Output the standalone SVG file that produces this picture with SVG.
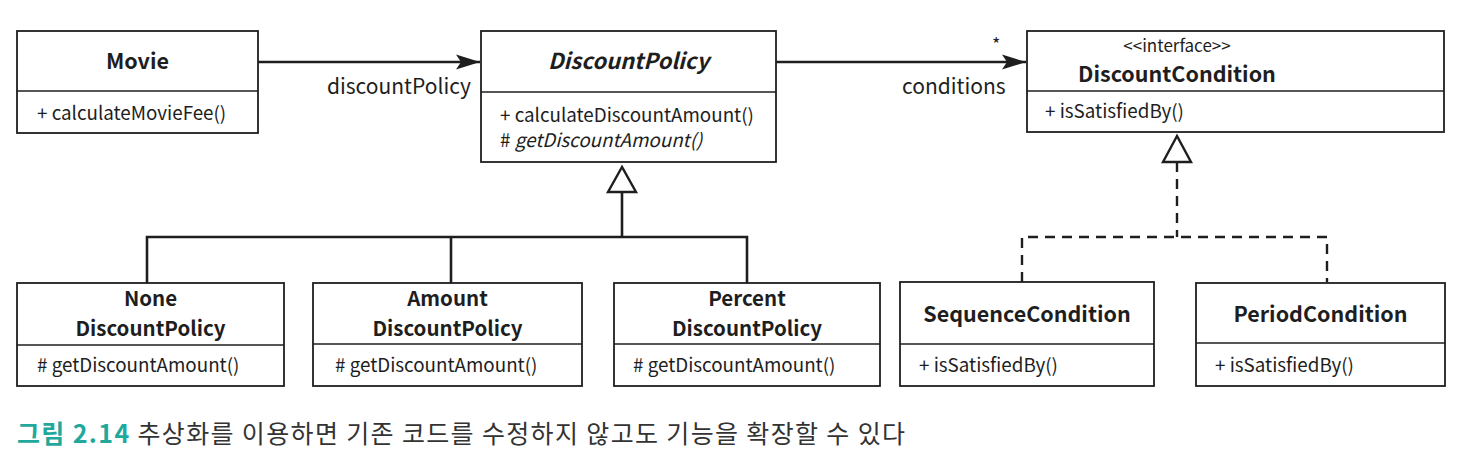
<svg xmlns="http://www.w3.org/2000/svg" width="1462" height="458" viewBox="0 0 1462 458">
<style>
text{font-family:"Noto Sans CJK KR","Noto Sans",sans-serif;fill:#1e1e1e}
.box{fill:#fff;stroke:#1e1e1e;stroke-width:1.8}
.div{stroke:#1e1e1e;stroke-width:1.6}
.t{font-size:21.5px;font-weight:700;text-anchor:middle}
.t2{font-size:20.5px;font-weight:700;text-anchor:middle}
.ti{font-size:22px;font-weight:700;font-style:italic;text-anchor:middle}
.m{font-size:18.8px}
.lbl{font-size:21px}
.st{font-size:17px;text-anchor:middle}
.ln{fill:none;stroke:#1e1e1e;stroke-width:2.6}
.dash{fill:none;stroke:#1e1e1e;stroke-width:2.4;stroke-dasharray:10 7}
.tri{fill:#fff;stroke:#1e1e1e;stroke-width:2.4;stroke-linejoin:miter}
</style>
<defs>
<marker id="arr" markerWidth="26" markerHeight="18" refX="24" refY="9" orient="auto" markerUnits="userSpaceOnUse">
<path d="M0,1.5 L24,9 L0,16.5 L5,9 Z" fill="#1e1e1e"/>
</marker>
</defs>
<rect width="1462" height="458" fill="#fff"/>

<g id="connectors">
<line class="ln" x1="258" y1="62" x2="480" y2="62" marker-end="url(#arr)"/>
<line class="ln" x1="776" y1="62" x2="1026" y2="62" marker-end="url(#arr)"/>
<text class="lbl" x="327" y="94">discountPolicy</text>
<text class="lbl" x="902" y="94">conditions</text>
<text style="font-size:18px" x="992" y="51">*</text>
<path class="ln" d="M622,192 V237 M147,283 V237 H747 V283 M451,237 V283"/>
<polygon class="tri" points="622,167 608,192 636,192"/>
<path class="dash" d="M1177,162 V237"/>
<path class="dash" d="M1022,282 V237 H1327 V282"/>
<polygon class="tri" points="1177,136 1163,162 1191,162"/>
</g>

<g id="movie">
<rect class="box" x="17" y="31" width="241" height="102"/>
<line class="div" x1="17" y1="91" x2="258" y2="91"/>
<text class="t" x="137.5" y="69">Movie</text>
<text class="m" x="37" y="120">+ calculateMovieFee()</text>
</g>

<g id="discountPolicy">
<rect class="box" x="481" y="31" width="295" height="131"/>
<line class="div" x1="481" y1="92" x2="776" y2="92"/>
<text class="ti" x="628.5" y="69">DiscountPolicy</text>
<text class="m" x="500" y="122">+ calculateDiscountAmount()</text>
<text class="m" x="500" y="147"># <tspan font-style="italic">getDiscountAmount()</tspan></text>
</g>

<g id="discountCondition">
<rect class="box" x="1027" y="31" width="417" height="101"/>
<line class="div" x1="1027" y1="91" x2="1444" y2="91"/>
<text class="st" x="1177" y="52">&lt;&lt;interface&gt;&gt;</text>
<text class="t" x="1177" y="82">DiscountCondition</text>
<text class="m" x="1045" y="118">+ isSatisfiedBy()</text>
</g>

<g id="noneDiscountPolicy">
<rect class="box" x="17" y="283" width="267" height="103"/>
<line class="div" x1="17" y1="345" x2="284" y2="345"/>
<text class="t2"><tspan x="150.5" y="306">None</tspan><tspan x="150.5" y="336">DiscountPolicy</tspan></text>
<text class="m" x="37" y="372"># getDiscountAmount()</text>
</g>

<g id="amountDiscountPolicy">
<rect class="box" x="313" y="283" width="269" height="103"/>
<line class="div" x1="313" y1="344" x2="582" y2="344"/>
<text class="t2"><tspan x="447.5" y="306">Amount</tspan><tspan x="447.5" y="336">DiscountPolicy</tspan></text>
<text class="m" x="335" y="372"># getDiscountAmount()</text>
</g>

<g id="percentDiscountPolicy">
<rect class="box" x="614" y="283" width="266" height="103"/>
<line class="div" x1="614" y1="344" x2="880" y2="344"/>
<text class="t2"><tspan x="747" y="306">Percent</tspan><tspan x="747" y="336">DiscountPolicy</tspan></text>
<text class="m" x="633" y="372"># getDiscountAmount()</text>
</g>

<g id="sequenceCondition">
<rect class="box" x="900" y="282" width="254" height="104"/>
<line class="div" x1="900" y1="344" x2="1154" y2="344"/>
<text class="t" x="1027" y="322">SequenceCondition</text>
<text class="m" x="919" y="372">+ isSatisfiedBy()</text>
</g>

<g id="periodCondition">
<rect class="box" x="1196" y="283" width="249" height="103"/>
<line class="div" x1="1196" y1="343" x2="1445" y2="343"/>
<text class="t" x="1320.5" y="322">PeriodCondition</text>
<text class="m" x="1215" y="372">+ isSatisfiedBy()</text>
</g>

<g id="caption">
<text x="17" y="443" style="font-size:25px" textLength="888" lengthAdjust="spacing"><tspan style="fill:#1fa89b;font-weight:700">그림 2.14</tspan><tspan style="fill:#333"> 추상화를 이용하면 기존 코드를 수정하지 않고도 기능을 확장할 수 있다</tspan></text>
</g>
</svg>
